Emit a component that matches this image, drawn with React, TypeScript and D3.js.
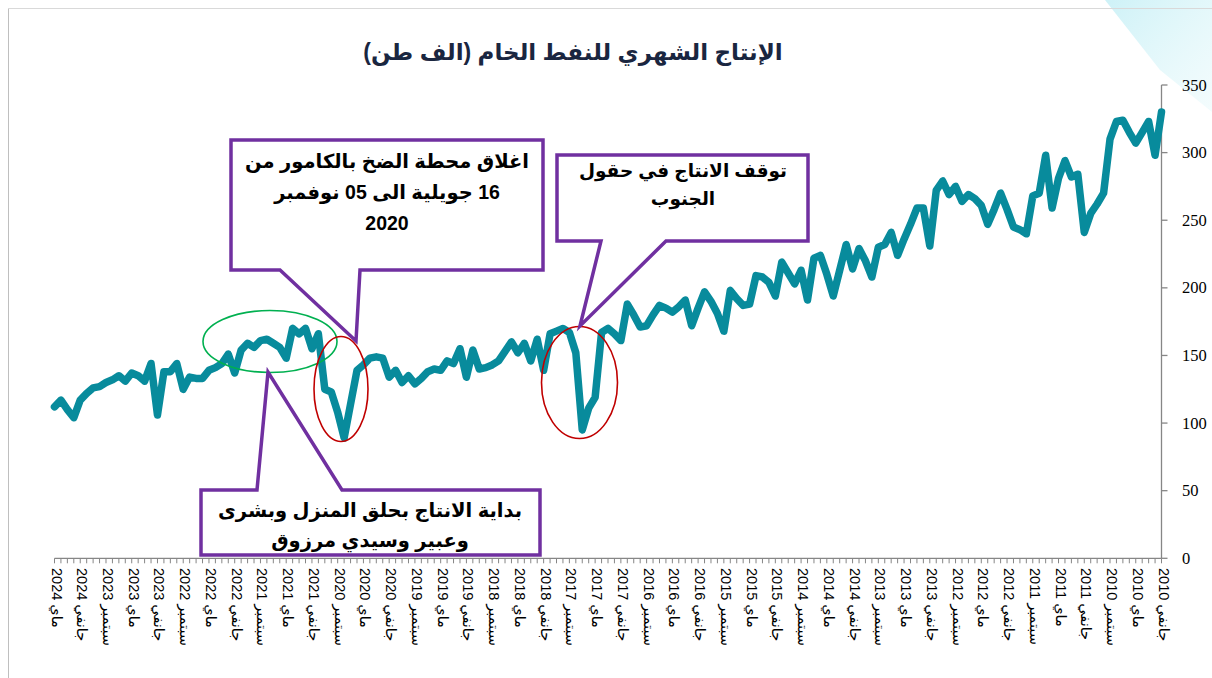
import React from 'react';
import * as d3 from 'd3';

// Monthly crude oil production (thousand tonnes), Jan 2010 .. May 2024
const prod2010 = [330, 298, 323, 315, 307, 315, 324, 323, 310, 270, 262, 255];
const prod2011 = [241, 284, 282, 294, 281, 259, 298, 270, 268, 240, 243, 245];
const prod2012 = [258, 270, 258, 247, 261, 266, 269, 264, 275, 269, 279, 272];
const prod2013 = [231, 259, 259, 247, 236, 224, 241, 232, 230, 208, 220, 229];
const prod2014 = [214, 232, 213, 194, 210, 224, 222, 191, 213, 203, 211, 219];
const prod2015 = [194, 204, 208, 209, 188, 187, 192, 198, 168, 181, 190, 197];
const prod2016 = [185, 172, 191, 186, 182, 185, 187, 180, 172, 171, 180, 188];
const prod2017 = [161, 166, 170, 167, 119, 111, 95, 152, 167, 170, 168, 166];
const prod2018 = [139, 162, 146, 159, 152, 160, 153, 146, 143, 141, 140, 154];
const prod2019 = [134, 155, 144, 146, 139, 140, 138, 133, 129, 135, 130, 139];
const prod2020 = [134, 148, 149, 148, 143, 139, 114, 89, 108, 123, 125, 166];
const prod2021 = [155, 170, 166, 170, 148, 156, 159, 162, 161, 156, 159, 154];
const prod2022 = [137, 151, 144, 141, 139, 133, 133, 134, 125, 144, 138, 138];
const prod2023 = [106, 144, 131, 135, 137, 131, 135, 132, 130, 127, 126, 122];
const prod2024 = [117, 104, 110, 117, 112];

const startYear = 2010;
const labelMonths = ['جانفي', 'ماي', 'سبتمبر'];
const yTicks = [0, 50, 100, 150, 200, 250, 300, 350];

const title = 'الإنتاج الشهري للنفط الخام (الف طن)';
const note1 = ['اغلاق محطة الضخ بالكامور من', '16 جويلية الى 05 نوفمبر', '2020'];
const note2 = ['توقف الانتاج في حقول', 'الجنوب'];
const note3 = ['بداية الانتاج بحلق المنزل وبشرى', 'وعبير وسيدي مرزوق'];

const values = [
  ...prod2010, ...prod2011, ...prod2012, ...prod2013, ...prod2014,
  ...prod2015, ...prod2016, ...prod2017, ...prod2018, ...prod2019,
  ...prod2020, ...prod2021, ...prod2022, ...prod2023, ...prod2024,
];

const W = 1212;
const H = 678;
const PURPLE = '#7030A0';
const TEAL = '#088B9C';
const AXIS = '#868686';
const SANS = "Arial, 'Liberation Sans', 'DejaVu Sans', sans-serif";

function calloutPath(l: number, t: number, r: number, b: number, b1: number, b2: number, tip: [number, number], side: 'bottom' | 'top') {
  if (side === 'bottom') {
    return `M${l},${t}H${r}V${b}H${b2}L${tip[0]},${tip[1]}L${b1},${b}H${l}Z`;
  }
  return `M${l},${t}H${b1}L${tip[0]},${tip[1]}L${b2},${t}H${r}V${b}H${l}Z`;
}

export default function App() {
  const n = values.length;
  const x = d3.scaleLinear().domain([0, n - 1]).range([1161.5, 54.5]);
  const y = d3.scaleLinear().domain([0, 350]).range([558.3, 85]);
  const line = d3.line<number>().x((_, i) => x(i)).y((d) => y(d));

  const idx = d3.range(n);
  const labelIdx = idx.filter((i) => i % 4 === 0);

  return (
    <svg width={W} height={H} style={{ position: 'absolute', left: 0, top: 0, background: '#fff' }}>
      <defs>
        <linearGradient id="deco" x1="0" y1="0" x2="1" y2="1">
          <stop offset="0" stopColor="#c8f0f6" stopOpacity="0.9" />
          <stop offset="1" stopColor="#e8f9fb" stopOpacity="0.5" />
        </linearGradient>
      </defs>
      {/* decoration top-right */}
      <polygon points="1105,0 1212,0 1212,112 1160,70" fill="url(#deco)" />
      {/* frame */}
      <line x1={8.5} y1={8} x2={8.5} y2={H} stroke="#bfbfbf" strokeWidth={1} />
      <line x1={8} y1={8.5} x2={W} y2={8.5} stroke="#d9d9d9" strokeWidth={1} />

      {/* title */}
      <text x={573} y={52} textAnchor="middle" dominantBaseline="central" fontFamily={SANS} fontWeight="bold" fontSize={23} fill="#1a2640" style={{ direction: 'rtl' }}>
        {title}
      </text>

      {/* y axis */}
      <line x1={x(0)} y1={y(0)} x2={x(0)} y2={y(350)} stroke={AXIS} strokeWidth={1.3} />
      {yTicks.map((t) => (
        <g key={t}>
          <line x1={x(0)} x2={x(0) + 6} y1={y(t)} y2={y(t)} stroke={AXIS} strokeWidth={1.3} />
          <text x={1182} y={y(t)} dominantBaseline="central" fontFamily="'Liberation Serif', 'Times New Roman', serif" fontSize={16.5} fill="#000">
            {t}
          </text>
        </g>
      ))}

      {/* x axis */}
      <line x1={x(n - 1)} x2={x(0)} y1={y(0)} y2={y(0)} stroke={AXIS} strokeWidth={1.3} />
      {idx.map((i) => (
        <line key={i} x1={x(i)} x2={x(i)} y1={y(0)} y2={y(0) + 5} stroke={AXIS} strokeWidth={1} />
      ))}
      {labelIdx.map((i) => (
        <text
          key={i}
          transform={`translate(${x(i) + 2},568) rotate(90)`}
          textAnchor="start"
          dominantBaseline="central"
          fontFamily={SANS}
          fontSize={14.5}
          fill="#000"
        >
          {`${labelMonths[(i % 12) / 4]} ${startYear + Math.floor(i / 12)}`}
        </text>
      ))}

      {/* data line */}
      <path d={line(values) || ''} fill="none" stroke={TEAL} strokeWidth={7.5} strokeLinejoin="round" strokeLinecap="round" />

      {/* ellipses */}
      <ellipse cx={270} cy={341.5} rx={67} ry={31} fill="none" stroke="#00B050" strokeWidth={1.6} />
      <ellipse cx={341} cy={389} rx={27} ry={52.5} fill="none" stroke="#C00000" strokeWidth={1.6} />
      <ellipse cx={579.5} cy={382.5} rx={38} ry={56} fill="none" stroke="#C00000" strokeWidth={1.6} />

      {/* callout 1 */}
      <path d={calloutPath(231, 140, 543, 270, 280, 360, [356, 341], 'bottom')} fill="#fff" stroke={PURPLE} strokeWidth={3.5} strokeLinejoin="miter" />
      {note1.map((s, k) => (
        <text key={k} x={387} y={161 + k * 31} textAnchor="middle" dominantBaseline="central" fontFamily={SANS} fontWeight="bold" fontSize={19.5} fill="#000" style={{ direction: 'rtl' }}>
          {s}
        </text>
      ))}

      {/* callout 2 */}
      <path d={calloutPath(557, 155, 808, 241, 601, 666, [580, 326], 'bottom')} fill="#fff" stroke={PURPLE} strokeWidth={3.5} />
      {note2.map((s, k) => (
        <text key={k} x={683} y={170 + k * 28} textAnchor="middle" dominantBaseline="central" fontFamily={SANS} fontWeight="bold" fontSize={18.5} fill="#000" style={{ direction: 'rtl' }}>
          {s}
        </text>
      ))}

      {/* callout 3 */}
      <path d={calloutPath(201, 490, 540, 555, 257, 342, [268, 372], 'top')} fill="#fff" stroke={PURPLE} strokeWidth={3.5} />
      {note3.map((s, k) => (
        <text key={k} x={370} y={510 + k * 30} textAnchor="middle" dominantBaseline="central" fontFamily={SANS} fontWeight="bold" fontSize={19.5} fill="#000" style={{ direction: 'rtl' }}>
          {s}
        </text>
      ))}
    </svg>
  );
}
